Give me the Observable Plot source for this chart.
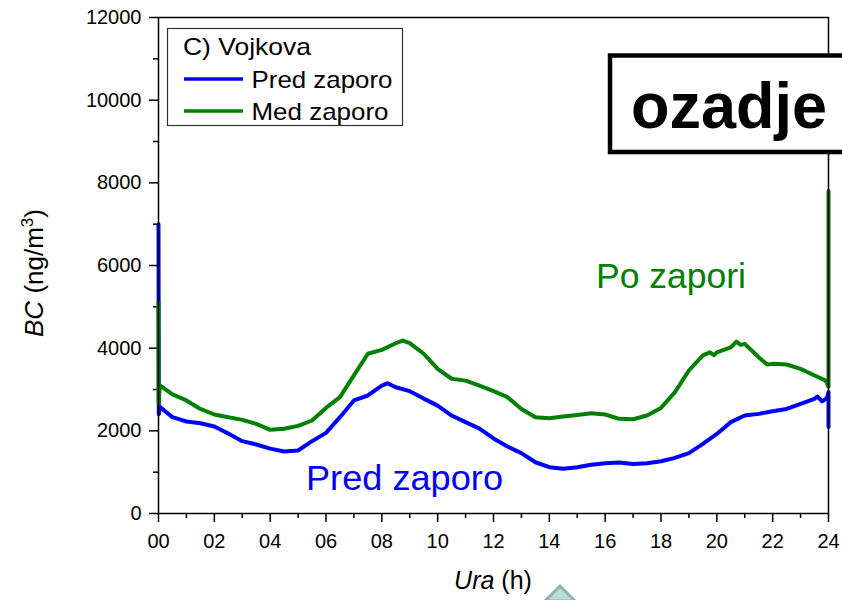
<!DOCTYPE html>
<html>
<head>
<meta charset="utf-8">
<script src="https://cdn.jsdelivr.net/npm/d3@7"></script>
<script src="https://cdn.jsdelivr.net/npm/@observablehq/plot@0.6"></script>
<style>
  html, body { margin: 0; padding: 0; background: #fff; }
</style>
</head>
<body>
<div id="chart"></div>
<script>
// Pred zaporo (blue)
const blueHours = [0, 0.01, 0.05, 0.5, 1, 1.5, 2, 2.5, 3, 3.5, 4, 4.5, 5, 5.5, 6, 6.5, 7, 7.5, 8, 8.2, 8.5, 9, 9.5, 10, 10.5, 11, 11.5, 12, 12.5, 13, 13.5, 14, 14.5, 15, 15.5, 16, 16.5, 17, 17.5, 18, 18.5, 19, 19.5, 20, 20.5, 21, 21.5, 22, 22.5, 23, 23.5, 23.6, 23.77, 23.95, 24, 24];
const blueValues = [7000, 2400, 2580, 2330, 2225, 2185, 2105, 1935, 1750, 1670, 1570, 1500, 1525, 1750, 1950, 2330, 2735, 2855, 3095, 3150, 3055, 2960, 2780, 2610, 2370, 2210, 2055, 1815, 1620, 1460, 1240, 1120, 1080, 1120, 1180, 1215, 1235, 1200, 1215, 1265, 1345, 1460, 1685, 1925, 2210, 2370, 2410, 2475, 2530, 2650, 2775, 2830, 2715, 2800, 2940, 2090];

// Med zaporo (green)
const greenHours = [0, 0.005, 0.05, 0.5, 1, 1.5, 2, 2.5, 3, 3.5, 4, 4.5, 5, 5.5, 6, 6.5, 7, 7.5, 8, 8.5, 8.75, 9, 9.5, 10, 10.5, 11, 11.5, 12, 12.5, 13, 13.5, 14, 14.5, 15, 15.5, 16, 16.5, 17, 17.5, 18, 18.5, 19, 19.5, 19.75, 19.9, 20, 20.5, 20.7, 20.85, 21, 21.5, 21.8, 22, 22.5, 23, 23.5, 23.9, 24, 24];
const greenValues = [5100, 2650, 3100, 2880, 2735, 2530, 2395, 2330, 2265, 2170, 2025, 2050, 2120, 2250, 2555, 2815, 3340, 3865, 3960, 4120, 4185, 4120, 3865, 3500, 3260, 3215, 3095, 2960, 2815, 2530, 2330, 2305, 2345, 2385, 2425, 2395, 2290, 2280, 2370, 2555, 2935, 3460, 3825, 3900, 3830, 3900, 4020, 4160, 4080, 4105, 3780, 3605, 3620, 3605, 3500, 3340, 3215, 3070, 7800];

const xMajorTicks = [0, 2, 4, 6, 8, 10, 12, 14, 16, 18, 20, 22, 24];
const xMinorTicks = [1, 3, 5, 7, 9, 11, 13, 15, 17, 19, 21, 23];
const yMajorTicks = [0, 2000, 4000, 6000, 8000, 10000, 12000];
const yMinorTicks = [1000, 3000, 5000, 7000, 9000, 11000];

const seriesNames = ["Pred zaporo", "Med zaporo"];
const seriesColors = ["#0000ff", "#008000"];
const legendTitle = "C) Vojkova";
const boxLabel = "ozadje";
const annotBefore = "Pred zaporo";
const annotAfter = "Po zapori";

const blue = blueHours.map((h, i) => ({h, v: blueValues[i]}));
const green = greenHours.map((h, i) => ({h, v: greenValues[i]}));

const FONT = "'Liberation Sans', Arial, Helvetica, sans-serif";

const svg = Plot.plot({
  width: 842,
  height: 600,
  marginLeft: 158,
  marginRight: 14,
  marginTop: 17,
  marginBottom: 87,
  x: {domain: [0, 24]},
  y: {domain: [0, 12000]},
  style: {fontFamily: FONT, fontSize: "20px", background: "#fff", color: "#000", overflow: "visible"},
  marks: [
    Plot.axisX(xMajorTicks, {tickSize: 9, tickPadding: 11, strokeWidth: 1.5, label: null, tickFormat: d => String(d).padStart(2, "0")}),
    Plot.axisX(xMinorTicks, {tickSize: 5, strokeWidth: 1.5, label: null, tickFormat: () => ""}),
    Plot.axisY(yMajorTicks, {tickSize: 9, tickPadding: 8, strokeWidth: 1.5, label: null, tickFormat: d => String(d)}),
    Plot.axisY(yMinorTicks, {tickSize: 5, strokeWidth: 1.5, label: null, tickFormat: () => ""}),
    Plot.line(blue, {x: "h", y: "v", stroke: seriesColors[0], strokeWidth: 4, strokeLinejoin: "round"}),
    Plot.line(green, {x: "h", y: "v", stroke: seriesColors[1], strokeWidth: 4, strokeLinejoin: "round"}),
    Plot.frame({stroke: "#000", strokeWidth: 1.5})
  ]
});

const s = d3.select(svg);

// Axis titles
const xl = s.append("text").attr("x", 493).attr("y", 589).attr("text-anchor", "middle")
  .attr("font-family", FONT).attr("font-size", 25).attr("fill", "#000");
xl.append("tspan").attr("font-style", "italic").text("Ura");
xl.append("tspan").text(" (h)");

const yl = s.append("text").attr("transform", "translate(43,273) rotate(-90)").attr("text-anchor", "middle")
  .attr("font-family", FONT).attr("font-size", 26).attr("fill", "#000");
yl.append("tspan").attr("font-style", "italic").text("BC");
yl.append("tspan").text(" (ng/m");
yl.append("tspan").attr("font-size", 17).attr("dy", -10).text("3");
yl.append("tspan").attr("dy", 10).text(")");

// Legend
const lg = s.append("g").attr("text-anchor", "start");
lg.append("rect").attr("x", 167.5).attr("y", 28.5).attr("width", 235).attr("height", 97)
  .attr("fill", "#fff").attr("stroke", "#333").attr("stroke-width", 1.2);
lg.append("text").attr("x", 183).attr("y", 55).attr("text-anchor", "start").attr("font-family", FONT).attr("font-size", 24)
  .attr("textLength", 128).attr("lengthAdjust", "spacingAndGlyphs").text(legendTitle);
const legendRows = [{y: 79, ty: 87.5, w: 141}, {y: 111, ty: 120, w: 137}];
seriesNames.forEach((name, i) => {
  lg.append("line").attr("x1", 184).attr("x2", 243).attr("y1", legendRows[i].y).attr("y2", legendRows[i].y)
    .attr("stroke", seriesColors[i]).attr("stroke-width", 3.5);
  lg.append("text").attr("x", 251.5).attr("y", legendRows[i].ty).attr("text-anchor", "start").attr("font-family", FONT).attr("font-size", 24)
    .attr("textLength", legendRows[i].w).attr("lengthAdjust", "spacingAndGlyphs").text(name);
});

// "ozadje" box
s.append("rect").attr("x", 610).attr("y", 55.5).attr("width", 260).attr("height", 96.5)
  .attr("fill", "#fff").attr("stroke", "#000").attr("stroke-width", 4.5);
s.append("text").attr("x", 631).attr("y", 128).attr("text-anchor", "start").attr("font-family", FONT).attr("font-weight", "bold")
  .attr("font-size", 64).attr("textLength", 196).attr("lengthAdjust", "spacingAndGlyphs").text(boxLabel);

// Annotations
s.append("text").attr("x", 306).attr("y", 490).attr("text-anchor", "start").attr("font-family", FONT).attr("font-size", 35)
  .attr("fill", seriesColors[0]).attr("textLength", 197).attr("lengthAdjust", "spacingAndGlyphs").text(annotBefore);
s.append("text").attr("x", 596).attr("y", 288).attr("text-anchor", "start").attr("font-family", FONT).attr("font-size", 35)
  .attr("fill", seriesColors[1]).attr("textLength", 150).attr("lengthAdjust", "spacingAndGlyphs").text(annotAfter);

// small decorative shape at bottom edge
s.append("path").attr("d", "M560,586 L545,601 L575,601 Z").attr("fill", "#bcdcdc").attr("stroke", "#8fb1b1").attr("stroke-width", 3);

document.getElementById("chart").appendChild(svg);
</script>
</body>
</html>
